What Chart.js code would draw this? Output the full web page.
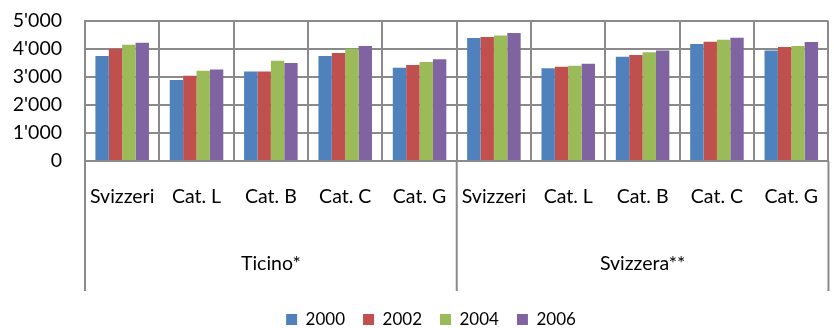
<!DOCTYPE html>
<html>
<head>
<meta charset="utf-8">
<script src="https://cdn.jsdelivr.net/npm/chart.js@4.4.1/dist/chart.umd.min.js"></script>
<style>
  html, body { margin: 0; padding: 0; background: #fff; overflow: hidden; }
  #wrap { width: 842px; height: 328px; }
</style>
</head>
<body>
<div id="wrap"><canvas id="chart" width="842" height="328"></canvas></div>
<script>
const categories = ['Svizzeri', 'Cat. L', 'Cat. B', 'Cat. C', 'Cat. G',
                    'Svizzeri', 'Cat. L', 'Cat. B', 'Cat. C', 'Cat. G'];
const groups = ['Ticino*', 'Svizzera**'];
const years = ['2000', '2002', '2004', '2006'];
const v2000 = [3750, 2890, 3200, 3750, 3330, 4390, 3310, 3725, 4180, 3950];
const v2002 = [4010, 3045, 3200, 3855, 3430, 4430, 3370, 3785, 4260, 4070];
const v2004 = [4150, 3225, 3580, 4010, 3535, 4485, 3400, 3880, 4330, 4105];
const v2006 = [4225, 3270, 3500, 4105, 3630, 4570, 3475, 3950, 4400, 4250];
const colors = ['#4F81BD', '#C0504D', '#9BBB59', '#8064A2'];

const gridColor = '#8a8a8a';
const lineW = 2;
const font = { family: 'Lato', size: 19.5 };

// lines under the axis that split the two groups
const groupLines = {
  id: 'groupLines',
  afterLayout(chart) {
    // nudge the legend a little, as in the original
    const lg = chart.legend;
    lg.left += 10; lg.right += 10;
    lg.top += 10; lg.bottom += 10;
  },
  afterDraw(chart) {
    const { ctx, chartArea, scales } = chart;
    const x = scales.x;
    const step = (x.right - x.left) / categories.length;
    const bottom = chartArea.bottom + 130;
    ctx.save();
    ctx.strokeStyle = gridColor;
    ctx.lineWidth = lineW;
    [0, 5, 10].forEach(i => {
      const px = x.left + i * step;
      ctx.beginPath();
      ctx.moveTo(px, chartArea.bottom);
      ctx.lineTo(px, bottom);
      ctx.stroke();
    });
    ctx.restore();
  }
};

const chart = new Chart(document.getElementById('chart'), {
  type: 'bar',
  data: {
    labels: categories,
    datasets: [v2000, v2002, v2004, v2006].map((d, i) => ({
      label: years[i],
      data: d,
      backgroundColor: colors[i],
      barPercentage: 1,
      categoryPercentage: 0.72,
      xAxisID: 'x'
    }))
  },
  options: {
    responsive: false,
    animation: false,
    layout: { padding: { top: 21 } },
    plugins: {
      tooltip: { enabled: false },
      legend: {
        position: 'bottom',
        labels: {
          font: { family: 'Lato', size: 17 },
          color: '#000',
          boxWidth: 11,
          boxHeight: 11,
          padding: 18
        }
      }
    },
    scales: {
      y: {
        min: 0,
        max: 5000,
        ticks: {
          stepSize: 1000,
          autoSkip: false,
          padding: 23,
          color: '#000',
          font: font,
          callback: v => String(v).replace(/\B(?=(\d{3})+(?!\d))/g, "'")
        },
        grid: { color: gridColor, lineWidth: lineW, drawTicks: false },
        border: { color: gridColor, width: lineW },
        afterFit: s => { s.width = 85; s.paddingTop = 0; s.paddingBottom = 0; }
      },
      x: {
        offset: true,
        ticks: { color: '#000', font: font, padding: 24, maxRotation: 0, autoSkip: false },
        grid: { color: gridColor, lineWidth: lineW, drawTicks: false, offset: true },
        border: { color: gridColor, width: lineW },
        afterFit: s => { s.height = 60; }
      },
      x2: {
        type: 'category',
        labels: groups,
        position: 'bottom',
        offset: true,
        ticks: { color: '#000', font: font, padding: 23, maxRotation: 0 },
        grid: { display: false },
        border: { display: false },
        afterFit: s => { s.height = 62; }
      }
    }
  },
  plugins: [groupLines]
});
</script>
</body>
</html>
